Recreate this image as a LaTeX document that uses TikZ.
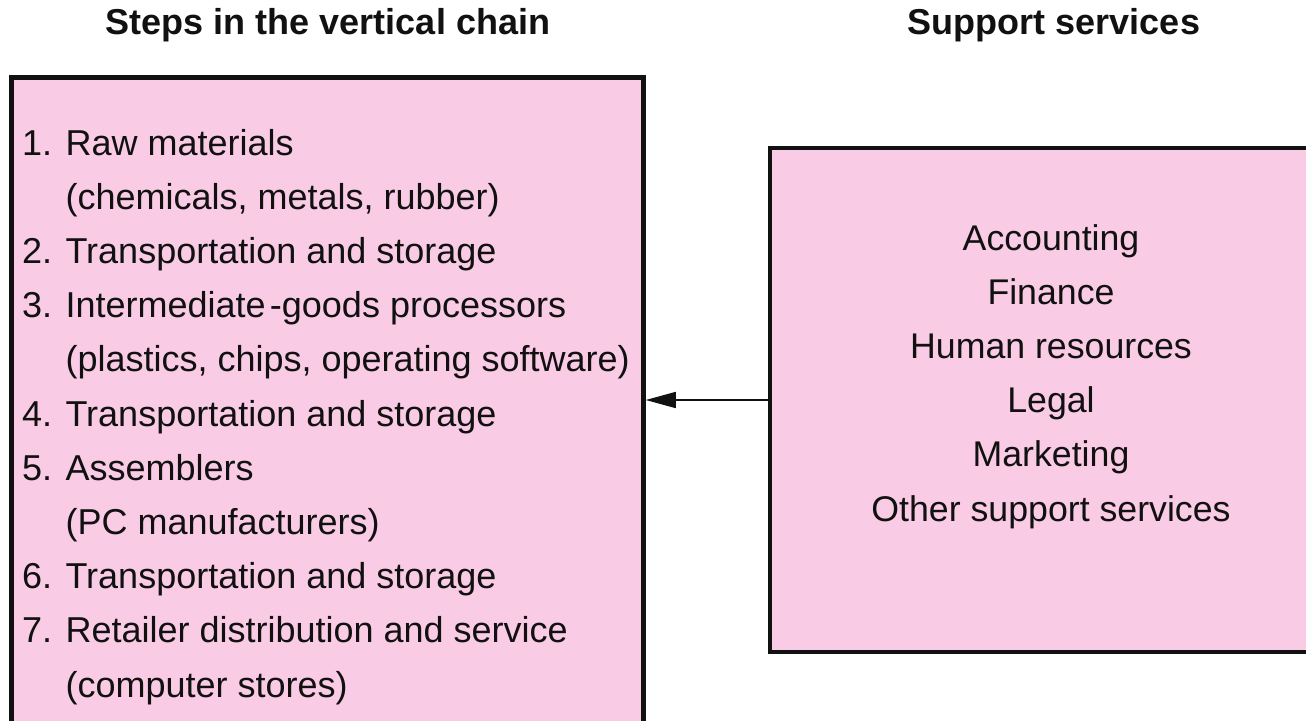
\documentclass[tikz,border=0pt]{standalone}
\usepackage{fontspec}
\setmainfont{Liberation Sans}
\usetikzlibrary{arrows.meta}
\definecolor{boxpink}{RGB}{249,203,228}
\definecolor{ink}{RGB}{17,17,17}
\begin{document}
\begin{tikzpicture}[x=1pt,y=-1pt,
  panel/.style={draw=ink, fill=boxpink, line width=4.5pt, rectangle, inner sep=0pt},
  heading/.style={font=\fontsize{36}{40}\selectfont\bfseries, text=ink, anchor=base, inner sep=0pt},
  item/.style={font=\fontsize{36}{40}\selectfont, text=ink, anchor=base west, inner sep=0pt},
  service/.style={font=\fontsize{35.7}{40}\selectfont, text=ink, anchor=base, inner sep=0pt},
  feed/.style={draw=ink, line width=1.6pt, -{Triangle[length=30pt,width=16pt]}}]
\clip (0,0) rectangle (1306,720);
\fill[white] (0,0) rectangle (1306,720);

% column headings
\node[heading] (chainhead) at (328,34) {Steps in the vertical chain};
\node[heading] (supporthead) at (1054,34) {Support services};

% the two panels (both run past the page edge)
\node[panel, minimum width=632pt, minimum height=690pt] (chain) at (327.5,422.5) {};
\node[panel, minimum width=580pt, minimum height=504pt] (services) at (1060,400) {};

% steps of the vertical chain
\foreach \t [count=\i from 0] in {
  1. Raw materials,
  \phantom{1. }(chemicals{,} metals{,} rubber),
  2. Transportation and storage,
  3. Intermediate\kern0.12em-goods processors,
  \phantom{1. }(plastics{,} chips{,} operating software),
  4. Transportation and storage,
  5. Assemblers,
  \phantom{1. }(PC manufacturers),
  6. Transportation and storage,
  7. Retailer distribution and service,
  \phantom{1. }(computer stores)}
  \node[item] (step\i) at (22,155+54.2*\i) {\t};

% support services
\foreach \t [count=\i from 0] in {Accounting, Finance, Human resources, Legal, Marketing, Other support services}
  \node[service] (svc\i) at (1051,250+54.2*\i) {\t};

% services feed the chain
\draw[feed] (services.west) -- (chain.east |- services.west);
\end{tikzpicture}
\end{document}
